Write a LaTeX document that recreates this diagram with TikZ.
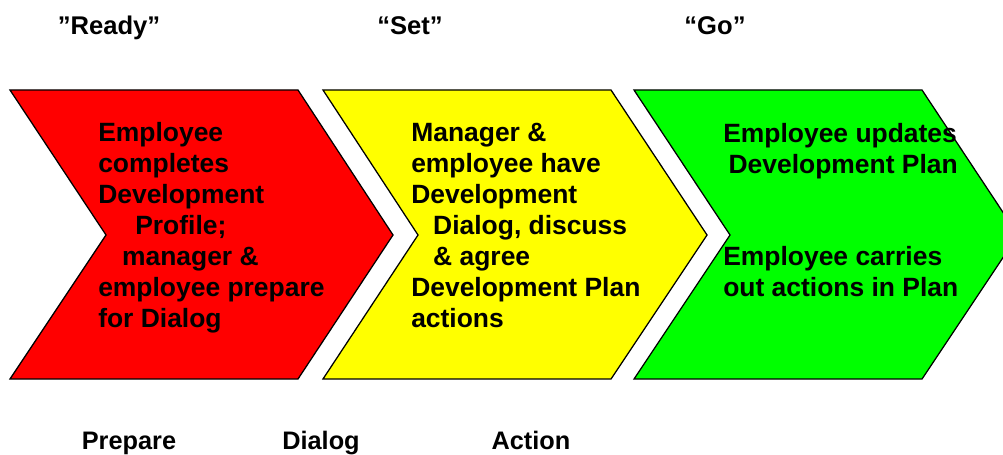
\documentclass[tikz,border=0pt]{standalone}
\usepackage{fontspec}
\setmainfont{Liberation Sans}
\usetikzlibrary{positioning}
\definecolor{stagered}{RGB}{255,0,0}
\definecolor{stageyellow}{RGB}{255,255,0}
\definecolor{stagegreen}{RGB}{0,255,0}

\begin{document}
\begin{tikzpicture}[x=0.025cm, y=0.025cm,
  stage/.style={draw=black, line width=0.9pt, line join=miter},
  stagetext/.style={anchor=north west, align=left, inner sep=0pt,
    font=\bfseries\fontsize{18.8}{22}\selectfont},
  phase/.style={anchor=base, inner sep=0pt, font=\bfseries\fontsize{18.2}{20}\selectfont},
  activity/.style={anchor=base, inner sep=0pt, font=\bfseries\fontsize{18}{20}\selectfont}]
  \useasboundingbox (0,0) rectangle (1003,454);
  \clip (0,0) rectangle (1003,454);
  % the three chevrons
  \draw[stage, fill=stagered] (10,364) -- (298,364) -- (393,219) -- (298,75) -- (10,75) -- (106,219) -- cycle;
  \draw[stage, fill=stageyellow] (323,364) -- (611,364) -- (707,219) -- (611,75) -- (323,75) -- (418,219) -- cycle;
  \draw[stage, fill=stagegreen] (634,364) -- (922,364) -- (1018,219) -- (922,75) -- (634,75) -- (730,219) -- cycle;
  % text inside the chevrons
  \node[stagetext] (readyText) at (98,332) {Employee\\completes\\Development\\\hspace*{1.4em}Profile;\\\hspace*{0.9em}manager \&\\employee prepare\\for Dialog};
  \node[stagetext] (setText) at (411,331) {Manager \&\\employee have\\Development\\\hspace*{0.83em}Dialog, discuss\\\hspace*{0.83em}\& agree\\Development Plan\\actions};
  \node[stagetext] (goTop) at (723,331) {Employee updates\\\hspace*{0.2em}Development Plan};
  \node[stagetext] (goBottom) at (723,208) {Employee carries\\out actions in Plan};
  % phase names above
  \node[phase] (ready) at (109,419) {”Ready”};
  \node[phase] (set) at (410,419) {“Set”};
  \node[phase] (go) at (715,419) {“Go”};
  % activities below
  \node[activity] (prepare) at (129,5) {Prepare};
  \node[activity] (dialog) at (321,5) {Dialog};
  \node[activity] (action) at (531,5) {Action};
\end{tikzpicture}
\end{document}
